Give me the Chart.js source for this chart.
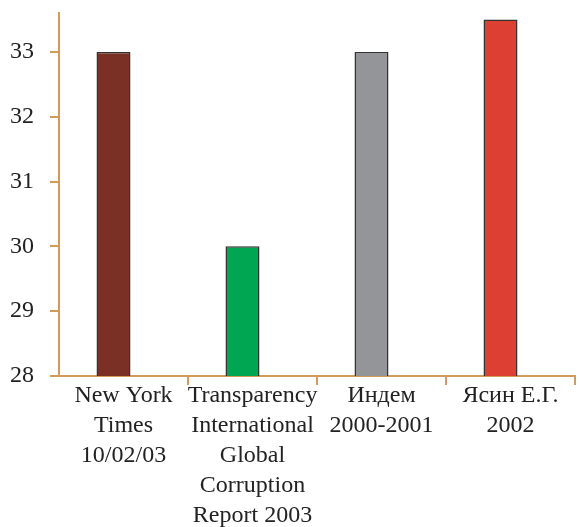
<!DOCTYPE html>
<html>
<head>
<meta charset="utf-8">
<script src="https://cdn.jsdelivr.net/npm/chart.js@4/dist/chart.umd.min.js"></script>
<style>
    html, body { margin: 0; padding: 0; background: #fff; }
    #wrap { width: 578px; height: 527px; position: relative; }
</style>
</head>
<body>
<div id="wrap"><canvas id="corruptionChart"></canvas></div>
<script>
// Chart data
const categories = [
    ['New York', 'Times', '10/02/03'],
    ['Transparency', 'International', 'Global', 'Corruption', 'Report 2003'],
    ['Индем', '2000-2001'],
    ['Ясин Е.Г.', '2002']
];
const values = [33, 30, 33, 33.5];
const barColors = ['#7a3024', '#00a651', '#939598', '#dd4033'];
const yTicks = [28, 29, 30, 31, 32, 33];

const axisColor = '#d39b5a';
const fontFamily = "'Liberation Serif', 'Times New Roman', serif";

document.addEventListener('DOMContentLoaded', () => {
    const ctx = document.getElementById('corruptionChart');
    new Chart(ctx, {
        type: 'bar',
        data: {
            labels: categories,
            datasets: [{
                data: values,
                backgroundColor: barColors,
                borderColor: '#333333',
                borderWidth: 1.5,
                borderSkipped: 'bottom'
            }, {
                // empty spacer so the bars sit a bit left of the category centre, as in the original
                data: values.map(() => null)
            }]
        },
        options: {
            responsive: true,
            maintainAspectRatio: false,
            animation: false,
            categoryPercentage: 0.31,
            barPercentage: 1.7,
            layout: { padding: { top: 13, right: 3, left: 0, bottom: 0 } },
            plugins: {
                legend: { display: false },
                tooltip: { enabled: false }
            },
            scales: {
                x: {
                    grid: {
                        offset: true,
                        drawOnChartArea: false,
                        tickLength: 9,
                        lineWidth: 2,
                        color: (c) => c.index === 0 ? 'rgba(0,0,0,0)' : axisColor
                    },
                    border: { color: axisColor, width: 2 },
                    ticks: {
                        color: '#222',
                        padding: -4,
                        maxRotation: 0,
                        autoSkip: false,
                        font: { family: fontFamily, size: 24, lineHeight: 1.25 }
                    },
                    afterFit: (scale) => {
                        scale.height = 151;
                        scale.paddingLeft = 0;
                        scale.paddingRight = 0;
                    }
                },
                y: {
                    min: 28,
                    max: 33.6,
                    grid: {
                        drawOnChartArea: false,
                        tickLength: 9,
                        lineWidth: 2,
                        color: axisColor
                    },
                    border: { color: axisColor, width: 2 },
                    ticks: {
                        color: '#222',
                        padding: 16,
                        font: { family: fontFamily, size: 24 }
                    },
                    afterBuildTicks: (scale) => {
                        scale.ticks = yTicks.map(v => ({ value: v }));
                    },
                    afterFit: (scale) => {
                        scale.width = 59;
                        scale.paddingTop = 0;
                        scale.paddingBottom = 0;
                    }
                }
            }
        }
    });
});
</script>
</body>
</html>
